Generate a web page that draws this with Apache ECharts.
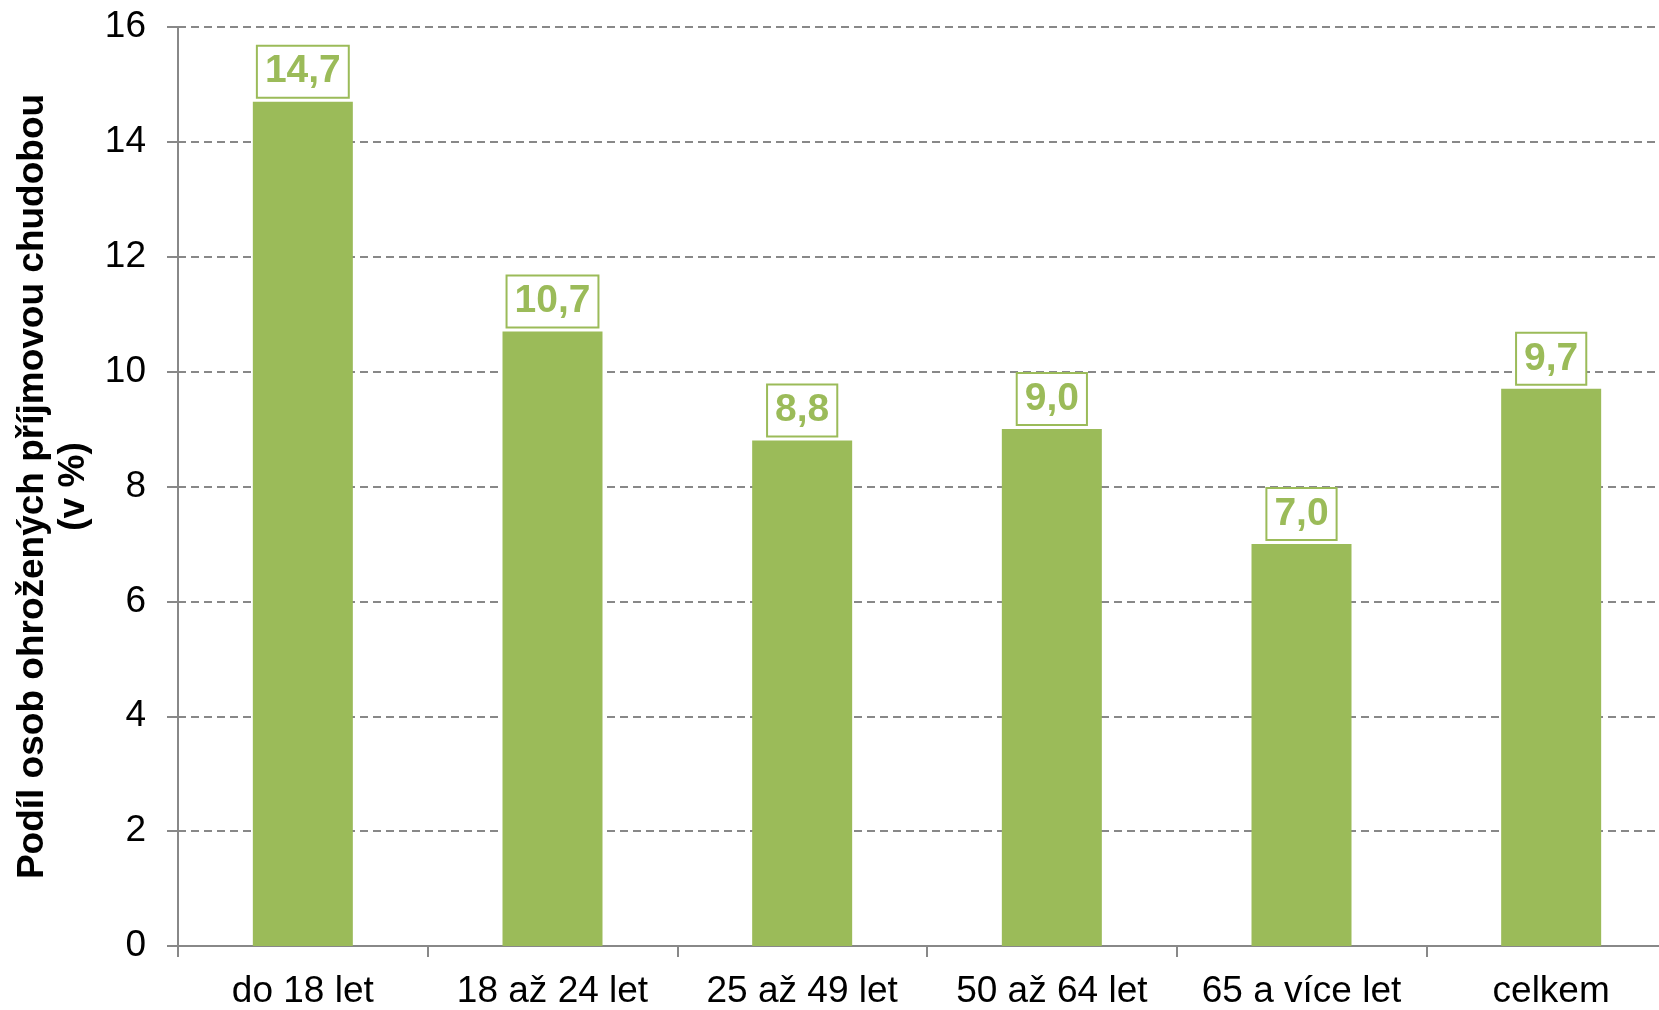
<!DOCTYPE html>
<html>
<head>
<meta charset="utf-8">
<script src="https://cdn.jsdelivr.net/npm/echarts@6/dist/echarts.min.js"></script>
<style>
  html, body { margin: 0; padding: 0; background: #fff; }
  #chart { width: 1659px; height: 1010px; }
</style>
</head>
<body>
<div id="chart"></div>
<script>
// vekove skupiny a podil osob (v %)
const categories = ['do 18 let', '18 až 24 let', '25 až 49 let', '50 až 64 let', '65 a více let', 'celkem'];
const values = [14.7, 10.7, 8.8, 9.0, 7.0, 9.7];
const yTicks = { min: 0, max: 16, interval: 2 };
const yTitle = 'Podíl osob ohrožených příjmovou chudobou\n(v %)';

const green = '#9BBB59';
const font = "'Liberation Sans', Arial, sans-serif";

const chart = echarts.init(document.getElementById('chart'));
const option = {
  animation: false,
  textStyle: { fontFamily: font },
  grid: {
    left: 178,
    right: -17,
    top: 27,
    bottom: 64,
    outerBoundsMode: 'none'
  },
  xAxis: {
    type: 'category',
    data: categories,
    axisLine: { lineStyle: { color: '#888', width: 2 } },
    axisTick: { show: true, interval: 0, length: 11, lineStyle: { color: '#888', width: 2 } },
    axisLabel: { interval: 0, fontSize: 37, color: '#000', margin: 27, fontFamily: font }
  },
  yAxis: {
    type: 'value',
    min: yTicks.min,
    max: yTicks.max,
    interval: yTicks.interval,
    name: yTitle,
    nameLocation: 'middle',
    nameGap: 75,
    nameTextStyle: { fontSize: 37, fontWeight: 'bold', color: '#000', lineHeight: 41, fontFamily: font },
    axisLine: { show: true, lineStyle: { color: '#888', width: 2 } },
    axisTick: { show: true, length: 11, lineStyle: { color: '#888', width: 2 } },
    axisLabel: { fontSize: 37, color: '#000', margin: 32, fontFamily: font },
    splitLine: { lineStyle: { color: '#888', width: 2, type: [8, 5] } }
  },
  series: [
    {
      type: 'bar',
      data: values,
      barWidth: 100,
      itemStyle: { color: green },
      label: {
        show: true,
        position: 'top',
        distance: 5,
        formatter: p => p.value.toFixed(1).replace('.', ','),
        fontSize: 39,
        fontWeight: 'bold',
        color: green,
        fontFamily: font,
        backgroundColor: '#fff',
        borderColor: green,
        borderWidth: 2,
        padding: [5, 7],
        lineHeight: 40
      }
    }
  ]
};
chart.setOption(option);
</script>
</body>
</html>
